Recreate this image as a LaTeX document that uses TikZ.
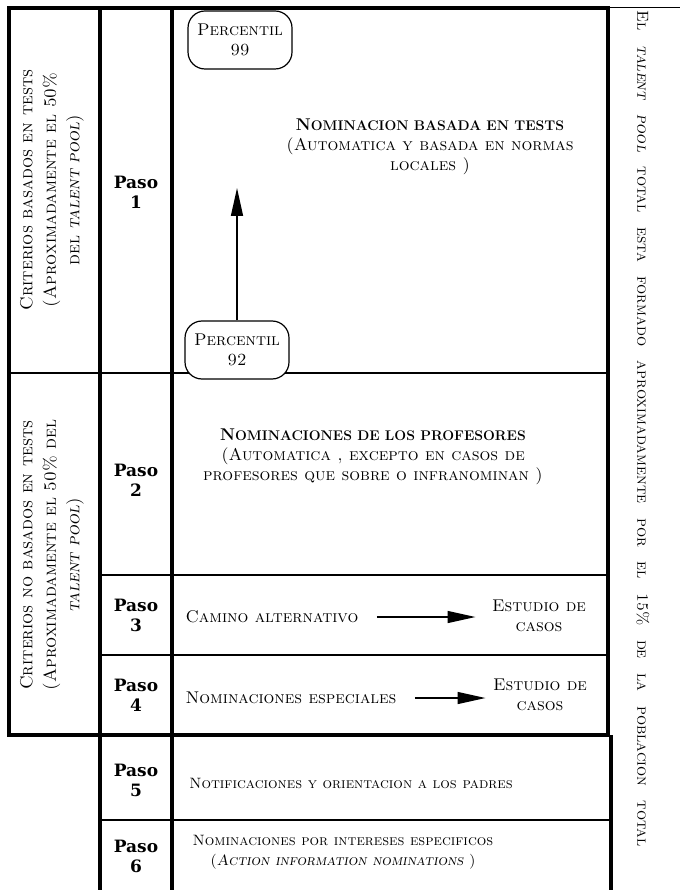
\documentclass[tikz,border=0pt]{standalone}
\usepackage{fontspec}
\newfontfamily\pasofont{DejaVu Serif}
\usetikzlibrary{arrows.meta}

\newcommand\tsc{\fontsize{17}{20}\selectfont\scshape}
\newcommand\bsm{\fontsize{14}{16}\selectfont}
\newcommand\scsl[1]{{\fontshape{scsl}\selectfont #1}}
\newcommand\bscap[2]{{\upshape\bfseries #1{\bsm #2}}}

\begin{document}
\begin{tikzpicture}[
  x=1pt, y=-1pt,
  grueso/.style={line width=3.5pt},
  medio/.style={line width=1.8pt},
  fino/.style={line width=1pt},
  lado/.style={rotate=90, align=center, font=\fontsize{17.5}{23.5}\selectfont\scshape},
  paso/.style={align=center, font=\pasofont\bfseries\fontsize{17}{20}\selectfont},
  texto/.style={align=center, font=\tsc},
  textob/.style={align=center, font=\fontsize{15}{20}\selectfont\scshape},
  pct/.style={draw, line width=1.2pt, rounded corners=17pt, fill=white,
    minimum width=104pt, minimum height=58pt, align=center, font=\tsc},
  flecha/.style={-{Triangle[length=28pt,width=12pt]}, line width=1.4pt}
]
  \useasboundingbox (0,0) rectangle (680,890);

  % table lines
  \draw[grueso] (9,8) rectangle (608,735);
  \draw[fino] (608,8) -- (680,8);
  \draw[grueso] (100,8) -- (100,890);
  \draw[grueso] (172,8) -- (172,890);
  \draw[grueso] (611,735) -- (611,890);
  \draw[medio] (9,373) -- (608,373);
  \draw[medio] (100,575) -- (608,575);
  \draw[medio] (100,655) -- (608,655);
  \draw[medio] (100,820) -- (611,820);

  % left column
  \node[lado] (crit1) at (52,190) {Criterios basados en tests\\(Aproximadamente el 50\%\\del \scsl{talent pool})};
  \node[lado] (crit2) at (52,555) {Criterios no basados en tests\\(Aproximadamente el 50\% del\\\scsl{talent pool})};

  % steps
  \node[paso] (paso1) at (136,192) {Paso\\1};
  \node[paso] (paso2) at (136,480) {Paso\\2};
  \node[paso] (paso3) at (136,615) {Paso\\3};
  \node[paso] (paso4) at (136,695) {Paso\\4};
  \node[paso] (paso5) at (136,780) {Paso\\5};
  \node[paso] (paso6) at (136,856) {Paso\\6};

  % step 1
  \node[pct] (p99) at (240,40) {Percentil\\99};
  \node[pct] (p92) at (237,350) {Percentil\\92};
  \coordinate (cima) at (237,188);
  \draw[flecha] (p92) -- (cima);
  \node[texto] (tests) at (430,147) {\bscap{N}{OMINACION BASADA EN TESTS}\\(Automatica y basada en normas\\locales )};

  % step 2
  \node[texto] (profes) at (373,457) {\bscap{N}{OMINACIONES DE LOS PROFESORES}\\(Automatica , excepto en casos de\\profesores que sobre o infranominan )};

  % steps 3 and 4
  \node[texto, anchor=west] (camino) at (182,617) {Camino alternativo};
  \node[texto] (estudio3) at (539,616) {Estudio de\\casos};
  \draw[flecha] ([xshift=15pt]camino.east) -- ([xshift=-13pt]camino.east -| estudio3.west);
  \node[texto, anchor=west] (especial) at (182,698) {Nominaciones especiales};
  \node[texto] (estudio4) at (540,695) {Estudio de\\casos};
  \draw[flecha] ([xshift=15pt]especial.east) -- ([xshift=-4pt]especial.east -| estudio4.west);

  % steps 5 and 6
  \node[textob] (padres) at (351,783) {Notificaciones y orientacion a los padres};
  \node[textob] (intereses) at (343,852) {Nominaciones por intereses especificos\\(\scsl{Action information nominations} )};

  % right column
  \node[rotate=-90, font=\fontsize{16}{18}\selectfont\scshape] (total) at (643,429)
    {\makebox[836pt][s]{El \scsl{talent pool} total esta formado aproximadamente por el 15\% de la poblacion total}};
\end{tikzpicture}
\end{document}
